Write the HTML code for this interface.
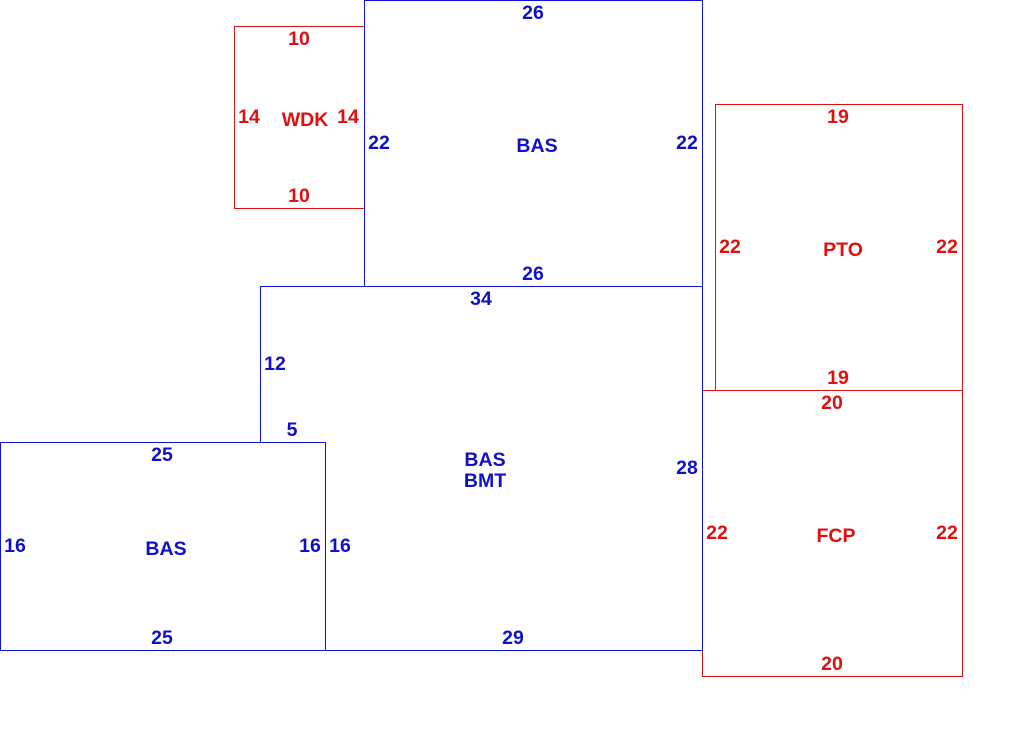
<!DOCTYPE html>
<html><head><meta charset="utf-8"><style>
html,body{margin:0;padding:0;background:#fff;}
svg{display:block;}
text{font-family:"Liberation Sans",sans-serif;font-weight:bold;font-size:19.5px;text-anchor:middle;dominant-baseline:central;}
.b{fill:#1010c8;}
.r{fill:#e01010;}
</style></head><body>
<svg width="1010" height="734" viewBox="0 0 1010 734" xmlns="http://www.w3.org/2000/svg">
<g fill="none" stroke-width="1.3" shape-rendering="crispEdges">
<rect x="234.5" y="26.5" width="130" height="182" stroke="#e01010"/>
<rect x="715.5" y="104.5" width="247" height="286" stroke="#e01010"/>
<rect x="702.5" y="390.5" width="260" height="286" stroke="#e01010"/>
<rect x="364.5" y="0.5" width="338" height="286" stroke="#1010e0"/>
<polyline points="260.5,442.5 260.5,286.5 702.5,286.5 702.5,650.5 325.5,650.5" stroke="#1010e0"/>
<rect x="0.5" y="442.5" width="325" height="208" stroke="#1010e0"/>
</g>
<g class="b">
<text x="533" y="13">26</text>
<text x="379" y="143">22</text>
<text x="537" y="146">BAS</text>
<text x="687" y="143">22</text>
<text x="533" y="274">26</text>
<text x="481" y="299">34</text>
<text x="275" y="364">12</text>
<text x="292" y="430">5</text>
<text x="162" y="455">25</text>
<text x="485" y="460">BAS</text>
<text x="485" y="481">BMT</text>
<text x="687" y="468">28</text>
<text x="15" y="546">16</text>
<text x="166" y="549">BAS</text>
<text x="310" y="546">16</text>
<text x="340" y="546">16</text>
<text x="162" y="638">25</text>
<text x="513" y="638">29</text>
</g>
<g class="r">
<text x="299" y="39">10</text>
<text x="249" y="117">14</text>
<text x="305" y="120">WDK</text>
<text x="348" y="117">14</text>
<text x="299" y="196">10</text>
<text x="838" y="117">19</text>
<text x="730" y="247">22</text>
<text x="843" y="250">PTO</text>
<text x="947" y="247">22</text>
<text x="838" y="378">19</text>
<text x="832" y="403">20</text>
<text x="717" y="533">22</text>
<text x="836" y="536">FCP</text>
<text x="947" y="533">22</text>
<text x="832" y="664">20</text>
</g>
</svg>
</body></html>
